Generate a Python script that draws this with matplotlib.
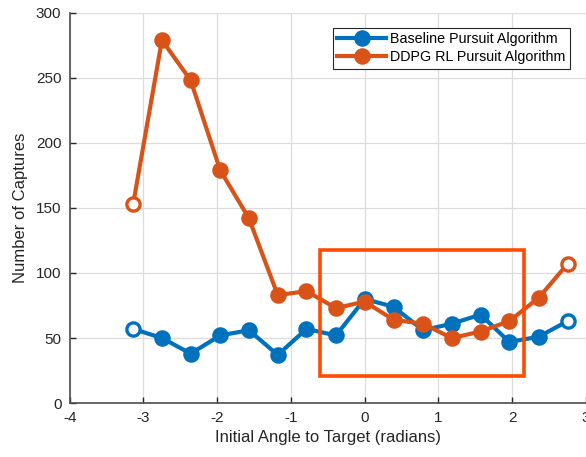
import matplotlib.pyplot as plt
import matplotlib.patches as patches
import numpy as np

# initial angle (radians), pi/8 steps
angles = [-3.14, -2.75, -2.36, -1.96, -1.57, -1.18, -0.79, -0.39,
          0.0, 0.39, 0.79, 1.18, 1.57, 1.96, 2.36, 2.75]
baseline = [57, 50, 38, 52, 56, 37, 57, 52, 80, 74, 56, 61, 68, 47, 51, 63]
ddpg = [153, 279, 248, 179, 142, 83, 86, 73, 78, 64, 61, 50, 55, 63, 81, 107]

# highlight box (data coords)
box_x = [-0.60, 2.16]
box_y = [21, 118]

plt.rcParams['font.family'] = ['Liberation Sans', 'DejaVu Sans']
plt.rcParams['axes.unicode_minus'] = False

fig = plt.figure(figsize=(5.86, 4.57), dpi=100)
ax = fig.add_axes([0.119, 0.118, 0.881, 0.854])

n = len(angles)
inner = list(range(1, n - 1))
ends = [0, n - 1]
for y, c, lab in [(baseline, '#0072BD', 'Baseline Pursuit Algorithm'),
                  (ddpg, '#D95319', 'DDPG RL Pursuit Algorithm')]:
    ax.plot(angles, y, color=c, lw=3, marker='o', ms=9.5, mew=2.4, mfc=c,
            markevery=inner, label=lab)
    # end points drawn as open circles
    ax.plot(angles, y, ls='none', color=c, marker='o', ms=9.5, mew=2.4,
            mfc='white', markevery=ends)

rect = patches.Rectangle((box_x[0], box_y[0]), box_x[1] - box_x[0], box_y[1] - box_y[0],
                         fill=False, edgecolor='#FF4A00', lw=2.6, zorder=5)
ax.add_patch(rect)

ax.set_xlim(-4, 3)
ax.set_ylim(0, 300)
ax.set_xticks(np.arange(-4, 4, 1))
ax.set_yticks(np.arange(0, 301, 50))
ax.grid(True, color='#dcdcdc', lw=0.9)
ax.set_axisbelow(True)
ax.tick_params(direction='in', length=4, colors='#262626', labelsize=11, width=1, pad=6)
for s in ['top', 'right']:
    ax.spines[s].set_visible(False)
for s in ['left', 'bottom']:
    ax.spines[s].set_color('#4d4d4d')
    ax.spines[s].set_linewidth(1.2)

ax.set_xlabel('Initial Angle to Target (radians)', fontsize=12, color='#262626', labelpad=3)
ax.set_ylabel('Number of Captures', fontsize=12, color='#262626', labelpad=6)

leg = ax.legend(loc='upper right', bbox_to_anchor=(0.969, 0.9615), fontsize=10.3,
                fancybox=False, edgecolor='#262626', framealpha=1,
                borderaxespad=0, handlelength=3.4, borderpad=0.3, labelspacing=0.3,
                handletextpad=0.3)
leg.get_frame().set_linewidth(0.8)

fig.savefig('out.png', dpi=100)
